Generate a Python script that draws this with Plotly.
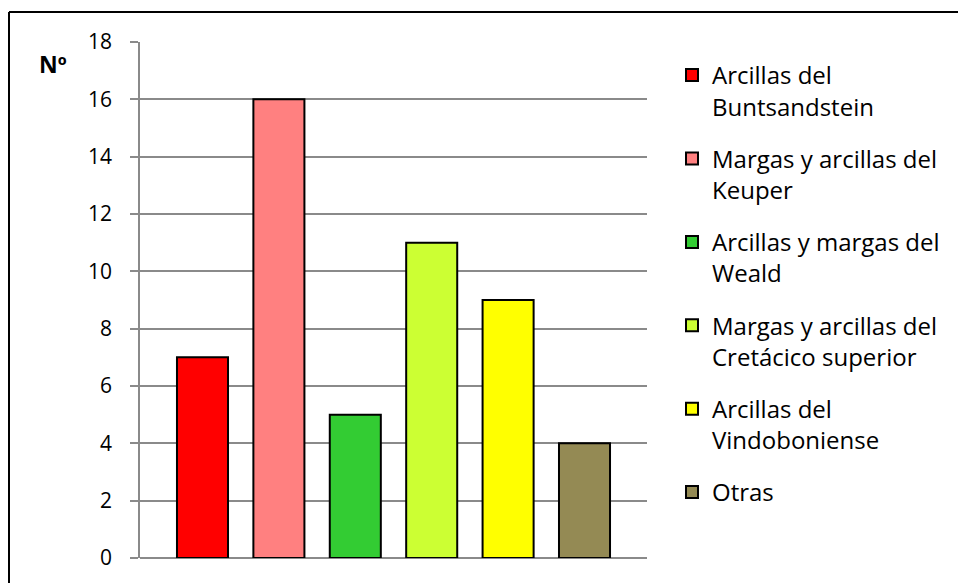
import plotly.graph_objects as go

categories = ["Arcillas del<br>Buntsandstein",
              "Margas y arcillas del<br>Keuper",
              "Arcillas y margas del<br>Weald",
              "Margas y arcillas del<br>Cretácico superior",
              "Arcillas del<br>Vindoboniense",
              "Otras"]
values = [7, 16, 5, 11, 9, 4]
colors = ["#FF0000", "#FF8080", "#33CC33", "#CCFF33", "#FFFF00", "#948A54"]
y_ticks = [0, 2, 4, 6, 8, 10, 12, 14, 16, 18]

FONT = "Open Sans"
fig = go.Figure()
for i, (cat, val, col) in enumerate(zip(categories, values, colors)):
    fig.add_trace(go.Bar(
        x=[i], y=[val], name=cat, legendgroup=f"g{i}",
        width=0.668,
        marker=dict(color=col, line=dict(color="black", width=2)),
        hoverinfo="y",
    ))

W, H = 958, 583
L, R, T, B = 140, 311, 42, 25
pw, ph = W - L - R, H - T - B

def px_x(x):
    return (x - L) / pw

def px_y(y):
    return (H - B - y) / ph

fig.update_layout(
    width=W, height=H,
    margin=dict(l=L, r=R, t=T, b=B, pad=0, autoexpand=False),
    paper_bgcolor="white", plot_bgcolor="white",
    barmode="overlay",
    font=dict(family=FONT, color="black", size=21),
    showlegend=True,
    legend=dict(
        x=px_x(672), y=px_y(53), xanchor="left", yanchor="top",
        font=dict(family=FONT, size=24, color="black"),
        valign="top", tracegroupgap=18, itemwidth=30,
        bgcolor="rgba(0,0,0,0)",
    ),
    xaxis=dict(
        range=[-0.818, 5.818], showticklabels=False, showgrid=False,
        zeroline=False, showline=False, ticks="",
        fixedrange=True,
    ),
    yaxis=dict(
        range=[0, 18], tickvals=y_ticks, ticktext=[str(v) for v in y_ticks],
        showgrid=True, gridcolor="#8A8A8A", gridwidth=1.8,
        zeroline=True, zerolinecolor="#8A8A8A", zerolinewidth=1.8,
        showline=True, linecolor="#8A8A8A", linewidth=1.8,
        ticks="outside", ticklen=8, tickwidth=1.8, tickcolor="#8A8A8A",
        ticklabelstandoff=14,
        tickfont=dict(family=FONT, size=21, color="black"),
        fixedrange=True,
    ),
    shapes=[
        dict(type="line", xref="paper", yref="paper",
             x0=px_x(9), x1=px_x(W + 20), y0=px_y(12), y1=px_y(12),
             line=dict(color="black", width=2)),
        dict(type="line", xref="paper", yref="paper",
             x0=px_x(9), x1=px_x(9), y0=px_y(12), y1=px_y(H + 20),
             line=dict(color="black", width=2)),
    ],
    annotations=[
        dict(text="<b>Nº</b>", xref="paper", yref="paper",
             x=px_x(53), y=px_y(64), xanchor="center", yanchor="middle",
             showarrow=False, font=dict(family=FONT, size=23, color="black")),
    ],
)

fig.write_html("out.html")
